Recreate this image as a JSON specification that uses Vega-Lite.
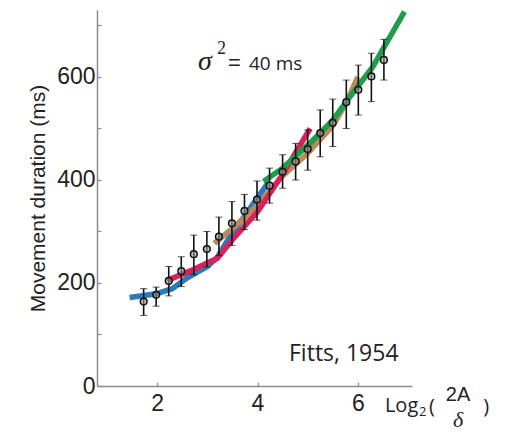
{
  "$schema": "https://vega.github.io/schema/vega-lite/v6.json",
  "autosize": "none",
  "width": 315,
  "height": 376,
  "padding": {"left": 97, "top": 10, "right": 99, "bottom": 47},
  "config": {
    "view": {"stroke": null},
    "font": "Liberation Sans",
    "axis": {"grid": false, "tickSize": -4, "domainColor": "#8a8a8a", "tickColor": "#8a8a8a", "domainWidth": 1.5, "tickWidth": 1.2, "labelFontSize": 23, "labelColor": "#222", "labelFont": "Liberation Sans", "titleFontSize": 21, "titleFont": "Liberation Sans", "titleFontWeight": "normal", "titleColor": "#222"}
  },
  "datasets": {
    "points": [
      {"x": 1.73, "y": 164, "lo": 137, "hi": 189},
      {"x": 1.98, "y": 177, "lo": 155, "hi": 192},
      {"x": 2.23, "y": 204, "lo": 175, "hi": 232},
      {"x": 2.48, "y": 223, "lo": 193, "hi": 251},
      {"x": 2.73, "y": 256, "lo": 216, "hi": 293},
      {"x": 2.99, "y": 266, "lo": 231, "hi": 300},
      {"x": 3.23, "y": 290, "lo": 253, "hi": 328},
      {"x": 3.49, "y": 316, "lo": 273, "hi": 358},
      {"x": 3.74, "y": 340, "lo": 304, "hi": 372},
      {"x": 3.99, "y": 362, "lo": 322, "hi": 398},
      {"x": 4.24, "y": 389, "lo": 355, "hi": 423},
      {"x": 4.5, "y": 416, "lo": 384, "hi": 449},
      {"x": 4.76, "y": 436, "lo": 400, "hi": 471},
      {"x": 5.0, "y": 460, "lo": 419, "hi": 497},
      {"x": 5.25, "y": 491, "lo": 445, "hi": 536},
      {"x": 5.5, "y": 511, "lo": 465, "hi": 557},
      {"x": 5.77, "y": 551, "lo": 500, "hi": 594},
      {"x": 6.01, "y": 575, "lo": 526, "hi": 623},
      {"x": 6.27, "y": 601, "lo": 552, "hi": 646},
      {"x": 6.52, "y": 633, "lo": 594, "hi": 673}
    ],
    "lines": [
      {"series": "blue", "x": 1.45, "y": 172},
      {"series": "blue", "x": 1.98, "y": 179},
      {"series": "blue", "x": 2.3, "y": 189},
      {"series": "blue", "x": 2.6, "y": 210},
      {"series": "blue", "x": 3.0, "y": 232},
      {"series": "blue", "x": 3.2, "y": 250},
      {"series": "blue", "x": 3.45, "y": 290},
      {"series": "blue", "x": 3.8, "y": 338},
      {"series": "blue", "x": 4.2, "y": 393},
      {"series": "brown", "x": 3.14, "y": 277},
      {"series": "brown", "x": 3.5, "y": 306},
      {"series": "brown", "x": 3.8, "y": 332},
      {"series": "brown", "x": 4.0, "y": 352},
      {"series": "brown", "x": 4.5, "y": 408},
      {"series": "brown", "x": 5.0, "y": 452},
      {"series": "brown", "x": 5.5, "y": 505},
      {"series": "brown", "x": 5.77, "y": 550},
      {"series": "brown", "x": 6.0, "y": 600},
      {"series": "red", "x": 2.2, "y": 205},
      {"series": "red", "x": 2.7, "y": 225},
      {"series": "red", "x": 3.2, "y": 248},
      {"series": "red", "x": 3.5, "y": 284},
      {"series": "red", "x": 4.0, "y": 338},
      {"series": "red", "x": 4.5, "y": 411},
      {"series": "red", "x": 5.05, "y": 500},
      {"series": "green", "x": 4.12, "y": 397},
      {"series": "green", "x": 4.5, "y": 423},
      {"series": "green", "x": 5.04, "y": 471},
      {"series": "green", "x": 5.5, "y": 516},
      {"series": "green", "x": 5.77, "y": 552},
      {"series": "green", "x": 6.3, "y": 620},
      {"series": "green", "x": 6.93, "y": 727}
    ],
    "labels": [
      {"text": "σ", "x": 2.953, "y": 613, "role": "sigma"},
      {"text": "2", "x": 3.19, "y": 645, "role": "sup"},
      {"text": "=", "x": 3.41, "y": 613, "role": "eq"},
      {"text": "40 ms", "x": 3.83, "y": 613, "role": "unit"},
      {"text": "Fitts, 1954", "x": 5.72, "y": 48, "role": "fitts"},
      {"text": "Log", "x": 6.54, "y": -50, "role": "log"},
      {"text": "2", "x": 7.22, "y": -58, "role": "sub"},
      {"text": "(", "x": 7.42, "y": -52, "role": "paren"},
      {"text": "2A", "x": 7.997, "y": -29, "role": "num"},
      {"text": "δ", "x": 8.0, "y": -80, "role": "den"},
      {"text": ")", "x": 8.5, "y": -52, "role": "paren"}
    ]
  },
  "layer": [
    {
      "data": {"name": "lines"},
      "transform": [{"filter": "datum.series == 'blue'"}],
      "mark": {"type": "line", "strokeWidth": 5.5, "color": "#2b7bbb", "strokeCap": "butt"},
      "encoding": {
        "x": {"field": "x", "type": "quantitative", "title": "", "scale": {"domain": [0.8, 7.08], "nice": false, "zero": false},
          "axis": {"title": "", "values": [2, 4, 6], "labelPadding": 10}},
        "y": {"field": "y", "type": "quantitative", "title": "Movement duration (ms)", "scale": {"domain": [0, 730], "nice": false},
          "axis": {"title": "Movement duration (ms)", "values": [0, 100, 200, 300, 400, 500, 600, 700], "labelExpr": "datum.value % 200 == 0 ? datum.label : ''", "labelPadding": 6, "titlePadding": 8}}
      }
    },
    {
      "data": {"name": "lines"},
      "transform": [{"filter": "datum.series == 'brown'"}],
      "mark": {"type": "line", "strokeWidth": 5.5, "color": "#b88a5c", "strokeCap": "butt"},
      "encoding": {
        "x": {"field": "x", "type": "quantitative", "title": "", "scale": {"domain": [0.8, 7.08], "nice": false, "zero": false}},
        "y": {"field": "y", "type": "quantitative", "title": "Movement duration (ms)", "scale": {"domain": [0, 730], "nice": false}}
      }
    },
    {
      "data": {"name": "lines"},
      "transform": [{"filter": "datum.series == 'red'"}],
      "mark": {"type": "line", "strokeWidth": 5.5, "color": "#d8225e", "strokeCap": "butt"},
      "encoding": {
        "x": {"field": "x", "type": "quantitative", "title": "", "scale": {"domain": [0.8, 7.08], "nice": false, "zero": false}},
        "y": {"field": "y", "type": "quantitative", "title": "Movement duration (ms)", "scale": {"domain": [0, 730], "nice": false}}
      }
    },
    {
      "data": {"name": "lines"},
      "transform": [{"filter": "datum.series == 'green'"}],
      "mark": {"type": "line", "strokeWidth": 5.5, "color": "#1e9e4a", "strokeCap": "butt"},
      "encoding": {
        "x": {"field": "x", "type": "quantitative", "title": "", "scale": {"domain": [0.8, 7.08], "nice": false, "zero": false}},
        "y": {"field": "y", "type": "quantitative", "title": "Movement duration (ms)", "scale": {"domain": [0, 730], "nice": false}}
      }
    },
    {
      "data": {"name": "points"},
      "mark": {"type": "errorbar", "ticks": {"size": 7, "color": "#111", "strokeWidth": 1.6}, "rule": {"strokeWidth": 1.6, "color": "#111"}},
      "encoding": {
        "x": {"field": "x", "type": "quantitative", "title": "", "scale": {"domain": [0.8, 7.08], "nice": false, "zero": false}},
        "y": {"field": "lo", "type": "quantitative", "title": "Movement duration (ms)", "scale": {"domain": [0, 730], "nice": false}},
        "y2": {"field": "hi"}
      }
    },
    {
      "data": {"name": "points"},
      "mark": {"type": "circle", "size": 45, "fill": "#9a9a9a", "fillOpacity": 0.6, "stroke": "#111", "strokeWidth": 1.5},
      "encoding": {
        "x": {"field": "x", "type": "quantitative", "title": "", "scale": {"domain": [0.8, 7.08], "nice": false, "zero": false}},
        "y": {"field": "y", "type": "quantitative", "title": "Movement duration (ms)", "scale": {"domain": [0, 730], "nice": false}}
      }
    },
    {
      "data": {"name": "labels"},
      "transform": [{"filter": "datum.role == 'sigma'"}],
      "mark": {"type": "text", "font": "Liberation Serif", "fontStyle": "italic", "fontSize": 28, "align": "center", "baseline": "alphabetic", "color": "#222"},
      "encoding": {
        "x": {"field": "x", "type": "quantitative", "title": "", "scale": {"domain": [0.8, 7.08], "nice": false, "zero": false}},
        "y": {"field": "y", "type": "quantitative", "title": "Movement duration (ms)", "scale": {"domain": [0, 730], "nice": false}},
        "text": {"field": "text"}
      }
    },
    {
      "data": {"name": "labels"},
      "transform": [{"filter": "datum.role == 'sup'"}],
      "mark": {"type": "text", "font": "Liberation Serif", "fontSize": 18, "align": "left", "baseline": "alphabetic", "color": "#222"},
      "encoding": {
        "x": {"field": "x", "type": "quantitative", "title": "", "scale": {"domain": [0.8, 7.08], "nice": false, "zero": false}},
        "y": {"field": "y", "type": "quantitative", "title": "Movement duration (ms)", "scale": {"domain": [0, 730], "nice": false}},
        "text": {"field": "text"}
      }
    },
    {
      "data": {"name": "labels"},
      "transform": [{"filter": "datum.role == 'eq'"}],
      "mark": {"type": "text", "font": "Liberation Sans", "fontSize": 22, "align": "left", "baseline": "alphabetic", "color": "#222"},
      "encoding": {
        "x": {"field": "x", "type": "quantitative", "title": "", "scale": {"domain": [0.8, 7.08], "nice": false, "zero": false}},
        "y": {"field": "y", "type": "quantitative", "title": "Movement duration (ms)", "scale": {"domain": [0, 730], "nice": false}},
        "text": {"field": "text"}
      }
    },
    {
      "data": {"name": "labels"},
      "transform": [{"filter": "datum.role == 'unit'"}],
      "mark": {"type": "text", "font": "Open Sans", "fontSize": 19, "align": "left", "baseline": "alphabetic", "color": "#222"},
      "encoding": {
        "x": {"field": "x", "type": "quantitative", "title": "", "scale": {"domain": [0.8, 7.08], "nice": false, "zero": false}},
        "y": {"field": "y", "type": "quantitative", "title": "Movement duration (ms)", "scale": {"domain": [0, 730], "nice": false}},
        "text": {"field": "text"}
      }
    },
    {
      "data": {"name": "labels"},
      "transform": [{"filter": "datum.role == 'fitts'"}],
      "mark": {"type": "text", "font": "Open Sans", "fontSize": 23, "align": "center", "baseline": "alphabetic", "color": "#222"},
      "encoding": {
        "x": {"field": "x", "type": "quantitative", "title": "", "scale": {"domain": [0.8, 7.08], "nice": false, "zero": false}},
        "y": {"field": "y", "type": "quantitative", "title": "Movement duration (ms)", "scale": {"domain": [0, 730], "nice": false}},
        "text": {"field": "text"}
      }
    },
    {
      "data": {"name": "labels"},
      "transform": [{"filter": "datum.role == 'log' || datum.role == 'paren'"}],
      "mark": {"type": "text", "font": "Open Sans", "fontSize": 20, "align": "left", "baseline": "alphabetic", "color": "#222"},
      "encoding": {
        "x": {"field": "x", "type": "quantitative", "title": "", "scale": {"domain": [0.8, 7.08], "nice": false, "zero": false}},
        "y": {"field": "y", "type": "quantitative", "title": "Movement duration (ms)", "scale": {"domain": [0, 730], "nice": false}},
        "text": {"field": "text"}
      }
    },
    {
      "data": {"name": "labels"},
      "transform": [{"filter": "datum.role == 'sub'"}],
      "mark": {"type": "text", "font": "Open Sans", "fontSize": 13, "align": "left", "baseline": "alphabetic", "color": "#222"},
      "encoding": {
        "x": {"field": "x", "type": "quantitative", "title": "", "scale": {"domain": [0.8, 7.08], "nice": false, "zero": false}},
        "y": {"field": "y", "type": "quantitative", "title": "Movement duration (ms)", "scale": {"domain": [0, 730], "nice": false}},
        "text": {"field": "text"}
      }
    },
    {
      "data": {"name": "labels"},
      "transform": [{"filter": "datum.role == 'num'"}],
      "mark": {"type": "text", "font": "Liberation Sans", "fontSize": 20, "align": "center", "baseline": "alphabetic", "color": "#222"},
      "encoding": {
        "x": {"field": "x", "type": "quantitative", "title": "", "scale": {"domain": [0.8, 7.08], "nice": false, "zero": false}},
        "y": {"field": "y", "type": "quantitative", "title": "Movement duration (ms)", "scale": {"domain": [0, 730], "nice": false}},
        "text": {"field": "text"}
      }
    },
    {
      "data": {"name": "labels"},
      "transform": [{"filter": "datum.role == 'den'"}],
      "mark": {"type": "text", "font": "Liberation Serif", "fontStyle": "italic", "fontSize": 22, "align": "center", "baseline": "alphabetic", "color": "#222"},
      "encoding": {
        "x": {"field": "x", "type": "quantitative", "title": "", "scale": {"domain": [0.8, 7.08], "nice": false, "zero": false}},
        "y": {"field": "y", "type": "quantitative", "title": "Movement duration (ms)", "scale": {"domain": [0, 730], "nice": false}},
        "text": {"field": "text"}
      }
    },
    {
      "mark": {"type": "rule", "color": "#444", "strokeWidth": 1.2},
      "encoding": {
        "x": {"datum": 7.74, "type": "quantitative", "title": "", "scale": {"domain": [0.8, 7.08], "nice": false, "zero": false}},
        "x2": {"datum": 8.28},
        "y": {"datum": -41, "type": "quantitative", "title": "Movement duration (ms)", "scale": {"domain": [0, 730], "nice": false}}
      }
    }
  ]
}
